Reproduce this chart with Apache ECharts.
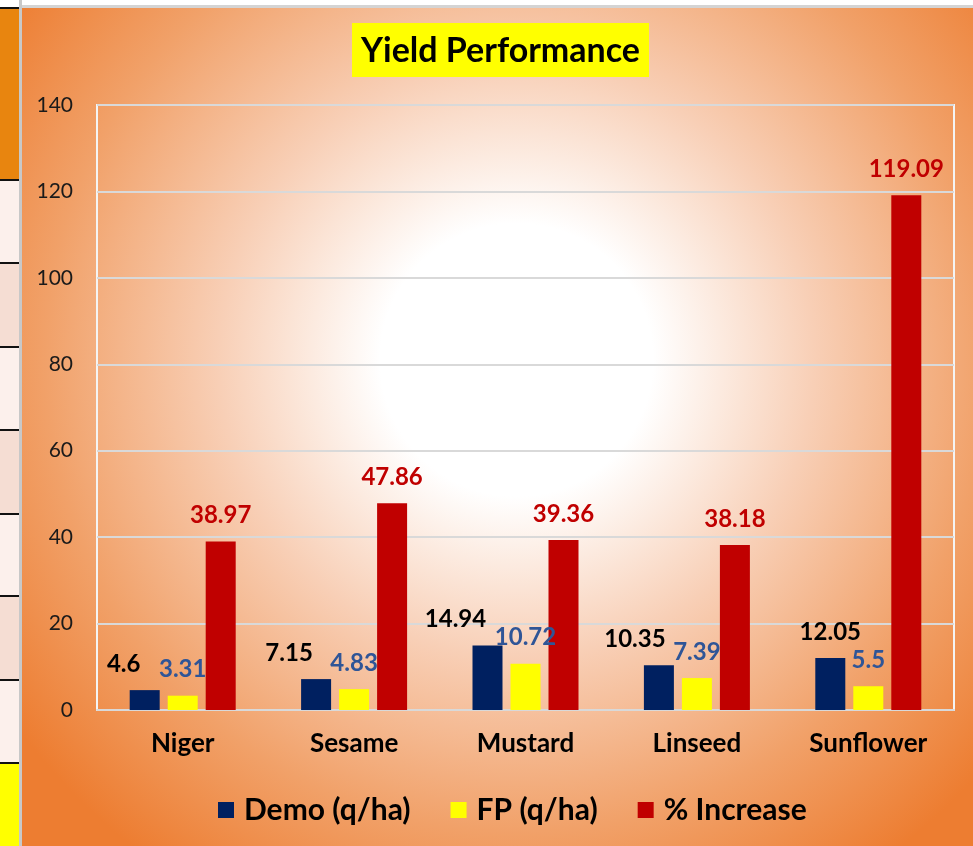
<!DOCTYPE html>
<html>
<head>
<meta charset="utf-8">
<script src="https://cdn.jsdelivr.net/npm/echarts@6/dist/echarts.min.js"></script>
<style>
html,body{margin:0;padding:0;background:#fff;}
#c{width:973px;height:846px;}
</style>
</head>
<body>
<div id="c"></div>
<script>
var categories = ['Niger', 'Sesame', 'Mustard', 'Linseed', 'Sunflower'];
var demo = [4.6, 7.15, 14.94, 10.35, 12.05];
var fp = [3.31, 4.83, 10.72, 7.39, 5.5];
var increase = [38.97, 47.86, 39.36, 38.18, 119.09];
var yTicks = [0, 20, 40, 60, 80, 100, 120, 140];
var demoLabelShift = [-21, -27, -32, -24, 0];

var FONT = 'Lato, "Open Sans", sans-serif';

var chart = echarts.init(document.getElementById('c'), null, {renderer: 'canvas'});

// left strip (cut-off table)
var stripRows = [
  {y0: 8, y1: 180, c: '#E8850F'},
  {y0: 180, y1: 263, c: '#FCF0EC'},
  {y0: 263, y1: 347, c: '#F5DDD3'},
  {y0: 347, y1: 430, c: '#FCF0EC'},
  {y0: 430, y1: 514, c: '#F5DDD3'},
  {y0: 514, y1: 596, c: '#FCF0EC'},
  {y0: 596, y1: 680, c: '#F5DDD3'},
  {y0: 680, y1: 763, c: '#FCF0EC'},
  {y0: 763, y1: 846, c: '#FFFF00'}
];
var graphics = [];
graphics.push({type: 'rect', shape: {x: 22, y: 8, width: 951, height: 838}, z: -10, silent: true,
  style: {fill: {type: 'radial', x: 0.52, y: 0.42, r: 0.74, global: false,
    colorStops: [
      {offset: 0, color: '#FFFFFF'},
      {offset: 0.22, color: '#FFFFFF'},
      {offset: 0.48, color: '#F8CFB6'},
      {offset: 0.76, color: '#F1A169'},
      {offset: 1, color: '#ED7D31'}
    ]}}});
stripRows.forEach(function (r) {
  graphics.push({type: 'rect', shape: {x: 0, y: r.y0, width: 19, height: r.y1 - r.y0}, z: -10, silent: true, style: {fill: r.c}});
});
stripRows.forEach(function (r) {
  graphics.push({type: 'rect', shape: {x: 0, y: r.y0 - 1, width: 19, height: 2}, z: -9, silent: true, style: {fill: '#111'}});
});
graphics.push({type: 'rect', shape: {x: 19, y: 0, width: 3, height: 846}, z: -9, silent: true, style: {fill: '#C8C8C8'}});
graphics.push({type: 'rect', shape: {x: 22, y: 5, width: 951, height: 3}, z: -9, silent: true, style: {fill: '#D4D4D4'}});

var labelBase = {show: true, position: 'top', distance: 14, fontFamily: FONT, fontWeight: 'bold', fontSize: 24};

var option = {
  animation: false,
  graphic: graphics,
  title: {
    text: 'Yield Performance',
    left: 352, top: 23,
    padding: [9, 9, 7, 9],
    backgroundColor: '#FFFF00',
    textStyle: {fontFamily: FONT, fontWeight: 'bold', fontSize: 34, lineHeight: 38, color: '#000'}
  },
  legend: {
    top: 790, left: 213,
    icon: 'rect', itemWidth: 16, itemHeight: 16, itemGap: 40,
    textStyle: {fontFamily: FONT, fontWeight: 'bold', fontSize: 30, color: '#000', padding: [0, 0, 0, 5]},
    data: ['Demo (q/ha)', 'FP (q/ha)', '% Increase']
  },
  grid: {left: 97, right: 19, top: 105, bottom: 136, show: true, borderColor: '#F4F4F4', borderWidth: 2, backgroundColor: 'transparent'},
  xAxis: {
    type: 'category', data: categories,
    axisLine: {show: true, lineStyle: {color: '#D9D9D9', width: 2}},
    axisTick: {show: false},
    axisLabel: {fontFamily: FONT, fontWeight: 'bold', fontSize: 26, color: '#000', margin: 21}
  },
  yAxis: {
    type: 'value', min: yTicks[0], max: yTicks[yTicks.length - 1], interval: yTicks[1] - yTicks[0],
    axisLine: {show: false}, axisTick: {show: false},
    splitLine: {lineStyle: {color: '#D9D9D9', width: 2}},
    axisLabel: {fontFamily: FONT, fontSize: 21, color: '#1a1a1a', margin: 24}
  },
  series: [
    {name: 'Demo (q/ha)', type: 'bar', barWidth: 30, barGap: '26.67%',
     itemStyle: {color: '#002060'},
     label: Object.assign({}, labelBase, {color: '#000'}),
     data: demo.map(function (v, i) { return {value: v, label: {offset: [demoLabelShift[i], 0]}}; })},
    {name: 'FP (q/ha)', type: 'bar', barWidth: 30, barGap: '26.67%',
     itemStyle: {color: '#FFFF00'},
     label: Object.assign({}, labelBase, {color: '#2F5597'}),
     data: fp},
    {name: '% Increase', type: 'bar', barWidth: 30, barGap: '26.67%',
     itemStyle: {color: '#C00000'},
     label: Object.assign({}, labelBase, {color: '#C00000'}),
     data: increase}
  ]
};
chart.setOption(option);
</script>
</body>
</html>
